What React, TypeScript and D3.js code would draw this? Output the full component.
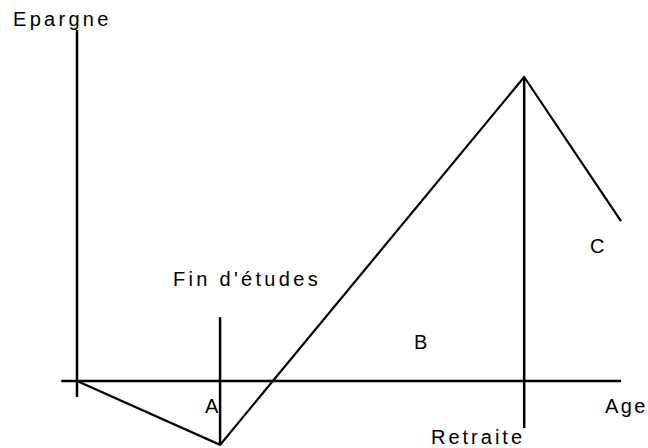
import * as d3 from 'd3'

// Epargne au cours du cycle de vie (schéma)
const ages = [0, 26.3, 82.2, 100]
const epargne = [0, -21, 100, 52.6]
const pointLabels = ['A', 'B', 'C']
const axisLabels = ['Epargne', 'Age']
const markerLabels = ["Fin d'études", 'Retraite']

const W = 648
const H = 448

export default function App() {
  const x = d3.scaleLinear().domain([0, 100]).range([77, 621])
  const y = d3.scaleLinear().domain([0, 100]).range([381, 77])

  const line = d3
    .line<number>()
    .x((_, i) => x(ages[i]))
    .y(d => y(d))

  const font = { fontFamily: 'Liberation Sans, Arial, sans-serif', fontSize: 20, letterSpacing: 3.3 }

  return (
    <svg
      width={W}
      height={H}
      viewBox={`0 0 ${W} ${H}`}
      style={{ position: 'absolute', left: 0, top: 0, background: '#fff' }}
    >
      <g stroke="#000" strokeWidth={2.5} fill="none">
        {/* axes */}
        <line x1={x(0)} x2={x(0)} y1={y(115.5)} y2={y(-5.3)} />
        <line x1={x(-2.9)} x2={x(100)} y1={y(0)} y2={y(0)} />
        {/* fin d'études / retraite */}
        <line x1={x(ages[1])} x2={x(ages[1])} y1={y(21)} y2={y(epargne[1])} />
        <line x1={x(ages[2])} x2={x(ages[2])} y1={y(epargne[2])} y2={y(-15.5)} />
      </g>
      <path d={line(epargne) ?? ''} stroke="#000" strokeWidth={2.2} fill="none" strokeLinejoin="miter" />
      <g fill="#000" style={font}>
        <text x={13} y={26}>{axisLabels[0]}</text>
        <text x={605} y={413} style={{ letterSpacing: 2.4 }}>{axisLabels[1]}</text>
        <text x={173} y={286}>{markerLabels[0]}</text>
        <text x={431} y={444} style={{ letterSpacing: 3 }}>{markerLabels[1]}</text>
        <text x={205} y={413}>{pointLabels[0]}</text>
        <text x={414} y={349}>{pointLabels[1]}</text>
        <text x={590} y={253}>{pointLabels[2]}</text>
      </g>
    </svg>
  )
}
